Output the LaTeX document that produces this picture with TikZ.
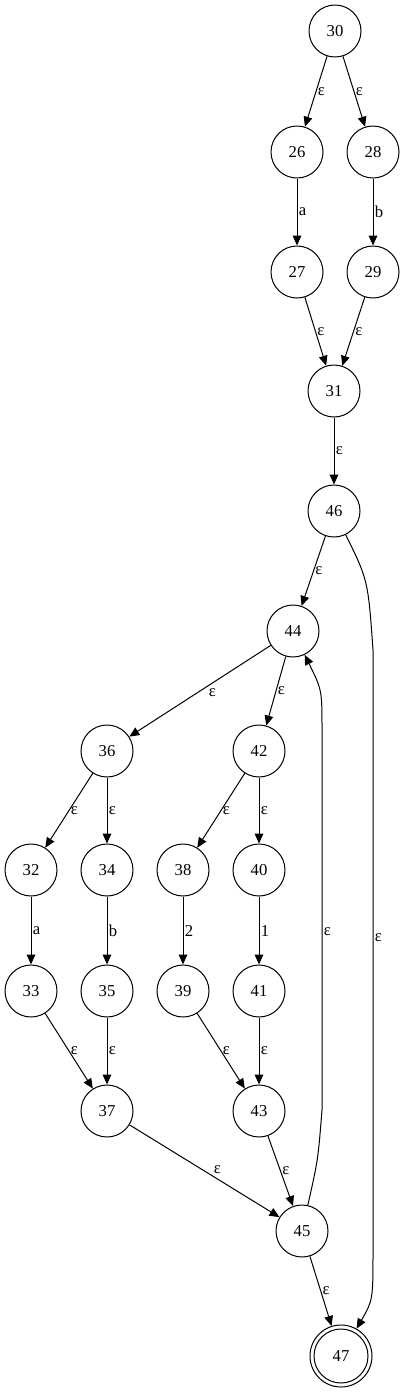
\documentclass[tikz,border=0pt]{standalone}
\usepackage{fontspec}
\setmainfont{Liberation Serif}
\usetikzlibrary{arrows.meta}

\begin{document}
\begin{tikzpicture}[x=0.75pt, y=-0.75pt]
                \useasboundingbox (0,0) rectangle (404,1393);
                \begin{scope}[every node/.style={draw, circle, line width=0.75pt, minimum size=39pt, inner sep=0pt, font=\fontsize{12.5}{14}\selectfont}]
                        \node (q30) at (335,31) {30};
                        \node (q26) at (297,152) {26};
                        \node (q28) at (373,152) {28};
                        \node (q27) at (297,272) {27};
                        \node (q29) at (373,272) {29};
                        \node (q31) at (334,391) {31};
                        \node (q46) at (334,511) {46};
                        \node (q44) at (293,631) {44};
                        \node (q36) at (107,751) {36};
                        \node (q42) at (259,751) {42};
                        \node (q32) at (31,870) {32};
                        \node (q34) at (107,870) {34};
                        \node (q38) at (183,870) {38};
                        \node (q40) at (259,870) {40};
                        \node (q33) at (31,991) {33};
                        \node (q35) at (107,991) {35};
                        \node (q39) at (183,991) {39};
                        \node (q41) at (259,991) {41};
                        \node (q37) at (107,1111) {37};
                        \node (q43) at (259,1111) {43};
                        \node (q45) at (302,1231) {45};
                        \node[minimum size=46.5pt] (q47) at (341,1356) {47};
                        \draw[line width=0.75pt] (q47.center) circle [radius=20.25pt];
                \end{scope}
                \begin{scope}[every node/.style={right, inner sep=1pt, font=\fontsize{12.5}{14}\selectfont}, every path/.style={line width=0.75pt, ->, >={Triangle[length=7.5pt, width=6.5pt]}}]
                        \path (q30) edge node {ε} (q26);
                        \path (q30) edge node {ε} (q28);
                        \path (q26) edge node {a} (q27);
                        \path (q28) edge node {b} (q29);
                        \path (q27) edge node {ε} (q31);
                        \path (q29) edge node {ε} (q31);
                        \path (q31) edge node {ε} (q46);
                        \path (q46) edge node {ε} (q44);
                        \path (q44) edge node [below right, pos=0.45] {ε} (q36);
                        \path (q44) edge node {ε} (q42);
                        \path (q36) edge node {ε} (q32);
                        \path (q36) edge node {ε} (q34);
                        \path (q42) edge node {ε} (q38);
                        \path (q42) edge node {ε} (q40);
                        \path (q32) edge node {a} (q33);
                        \path (q34) edge node {b} (q35);
                        \path (q38) edge node {2} (q39);
                        \path (q40) edge node {1} (q41);
                        \path (q33) edge node {ε} (q37);
                        \path (q35) edge node {ε} (q37);
                        \path (q39) edge node {ε} (q43);
                        \path (q41) edge node {ε} (q43);
                        \path (q37) edge node [above right, pos=0.55] {ε} (q45);
                        \path (q43) edge node {ε} (q45);
                        \path (q45) edge node {ε} (q47);
                        % long back and skip edges
                        \draw (q45) .. controls (318,1160) .. (322,1110) -- node [pos=0.47] {ε} (322,730) .. controls (322,690) .. (q44);
                        \draw (q46) .. controls (368,580) .. (373,650) -- node [pos=0.48] {ε} (373,1250) .. controls (373,1300) .. (q47);
                \end{scope}
        \end{tikzpicture}
\end{document}
